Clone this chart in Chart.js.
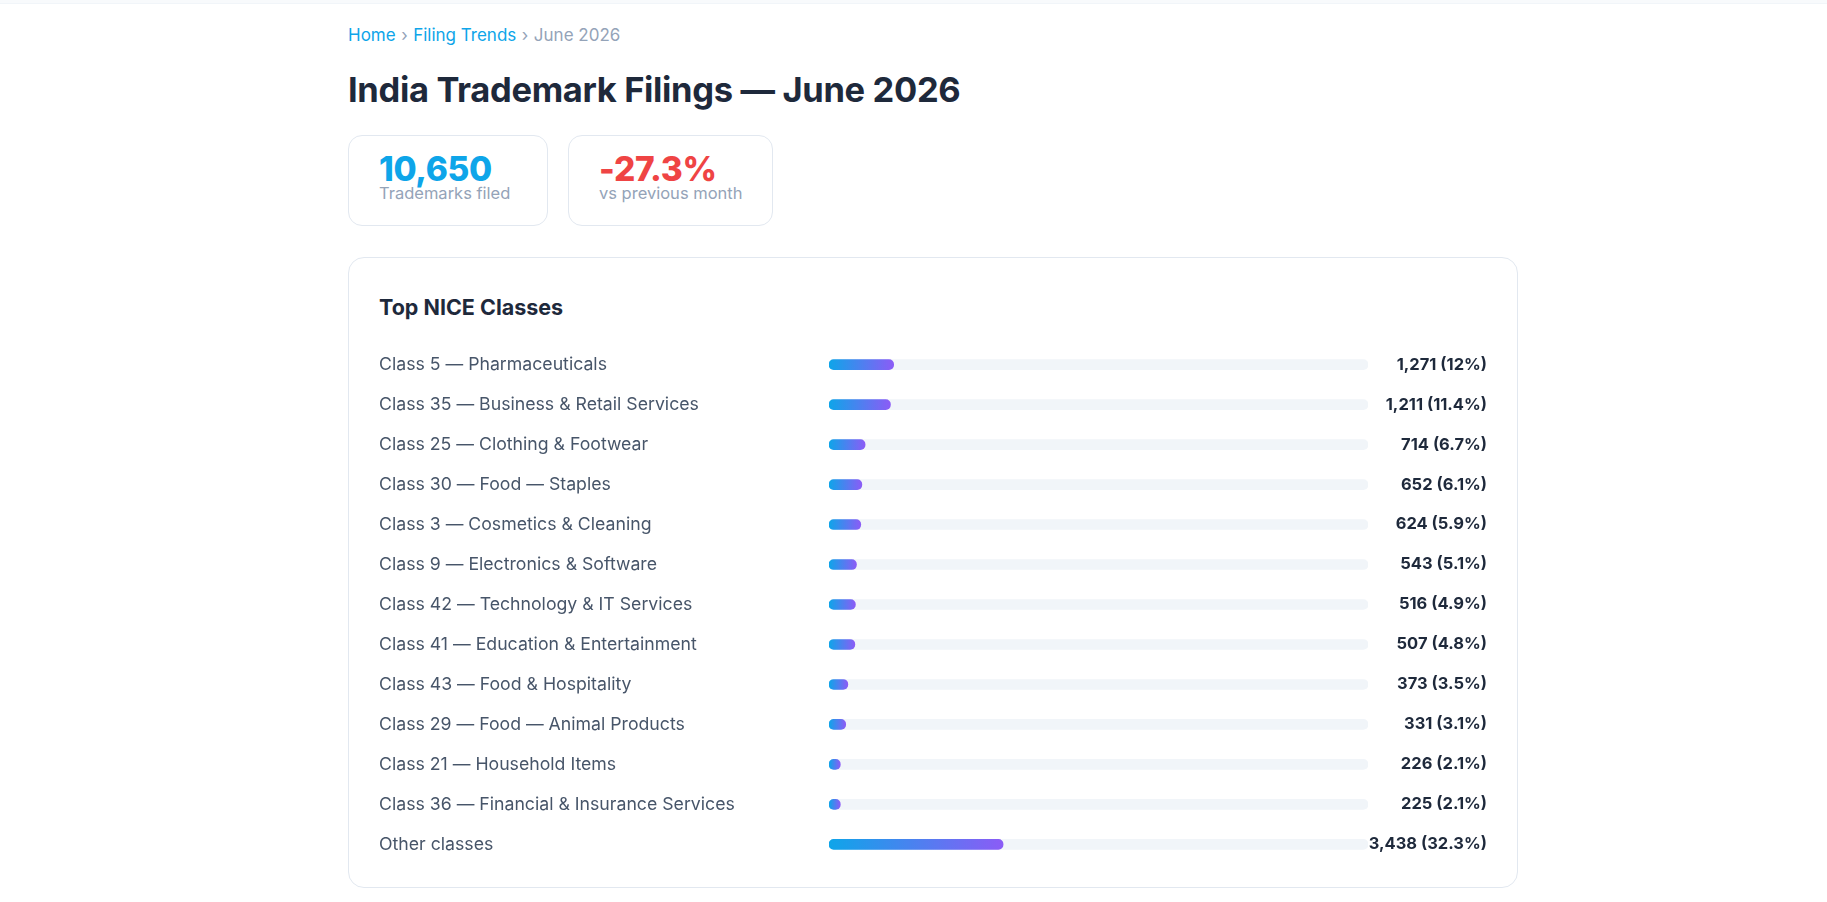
<!DOCTYPE html>
<html lang="en">
<head>
<meta charset="utf-8">
<title>India Trademark Filings — June 2026</title>
<script src="https://cdn.jsdelivr.net/npm/chart.js@4.4.1/dist/chart.umd.min.js"></script>
<style>
  body { margin: 0; background: #fff; font-family: Inter, "Noto Sans", sans-serif; color: #1e293b; }
  .topbar { height: 3px; background: #f8fafc; border-bottom: 1px solid #f1f5f9; }
  .wrap { margin-left: 348px; width: 1170px; }
  .crumbs { margin-top: 21px; font-size: 17px; color: #94a3b8; }
  .crumbs a { color: #0ea5e9; text-decoration: none; }
  .crumbs .sep { color: #94a3b8; margin: 0 5.5px; }
  h1 { margin: 23.5px 0 0; font-size: 34.5px; font-weight: 700; letter-spacing: -0.01em; color: #1e293b; }
  .stats { display: flex; gap: 20px; margin-top: 25px; }
  .stat { box-sizing: border-box; min-width: 200px; height: 91px; border: 1px solid #e2e8f0; border-radius: 14px; padding: 17px 30px 0 30px; }
  .stat .num { font-size: 33.5px; font-weight: 800; line-height: 1; letter-spacing: -0.01em; }
  .stat .lbl { font-size: 16.5px; color: #94a3b8; line-height: 1.1; margin-top: -2px; }
  .panel { margin-top: 31px; border: 1px solid #e2e8f0; border-radius: 16px; padding: 36px 30px 9px 30px; }
  .panel h2 { margin: 0; font-size: 21.5px; line-height: 26px; font-weight: 700; color: #1e293b; }
  .chart-box { position: relative; height: 547px; width: 1108px; margin-top: 11px; }
</style>
</head>
<body>
<div class="topbar"></div>
<div class="wrap">
  <div class="crumbs"><a href="#">Home</a><span class="sep">›</span><a href="#">Filing Trends</a><span class="sep">›</span>June 2026</div>
  <h1>India Trademark Filings — June 2026</h1>
  <div class="stats">
    <div class="stat"><div class="num" style="color:#0ea5e9">10,650</div><div class="lbl">Trademarks filed</div></div>
    <div class="stat"><div class="num" style="color:#ef4444">-27.3%</div><div class="lbl">vs previous month</div></div>
  </div>
  <div class="panel">
    <h2>Top NICE Classes</h2>
    <div class="chart-box"><canvas id="classesChart"></canvas></div>
  </div>
</div>
<script>
// Dados
const classLabels = [
  'Class 5 — Pharmaceuticals',
  'Class 35 — Business & Retail Services',
  'Class 25 — Clothing & Footwear',
  'Class 30 — Food — Staples',
  'Class 3 — Cosmetics & Cleaning',
  'Class 9 — Electronics & Software',
  'Class 42 — Technology & IT Services',
  'Class 41 — Education & Entertainment',
  'Class 43 — Food & Hospitality',
  'Class 29 — Food — Animal Products',
  'Class 21 — Household Items',
  'Class 36 — Financial & Insurance Services',
  'Other classes'
];
const classCounts = [1271, 1211, 714, 652, 624, 543, 516, 507, 373, 331, 226, 225, 3438];
const classShares = [12, 11.4, 6.7, 6.1, 5.9, 5.1, 4.9, 4.8, 3.5, 3.1, 2.1, 2.1, 32.3];
const shareMax = 100;

// Texto da coluna da direita: "1,271 (12%)"
const valueLabels = classCounts.map((c, i) => c.toLocaleString('en-US') + ' (' + classShares[i] + '%)');
const trackValues = classLabels.map(() => shareMax);

function barGradient(context) {
    const chart = context.chart;
    if (!chart.chartArea) return '#0ea5e9';
    const x = chart.scales.x;
    const x0 = x.getPixelForValue(0);
    const x1 = Math.max(x.getPixelForValue(context.raw), x0 + 1);
    const g = chart.ctx.createLinearGradient(x0, 0, x1, 0);
    g.addColorStop(0, '#0ea5e9');
    g.addColorStop(1, '#8b5cf6');
    return g;
}

new Chart(document.getElementById('classesChart').getContext('2d'), {
    type: 'bar',
    data: {
        labels: classLabels,
        datasets: [{
            label: 'Share',
            data: classShares,
            backgroundColor: barGradient,
            borderRadius: 6,
            borderSkipped: false,
            barThickness: 10,
            grouped: false,
            order: 1
        }, {
            label: 'Track',
            data: trackValues,
            backgroundColor: '#f1f5f9',
            borderRadius: 6,
            borderSkipped: false,
            barThickness: 10,
            grouped: false,
            order: 2
        }]
    },
    options: {
        indexAxis: 'y',
        responsive: true,
        maintainAspectRatio: false,
        animation: false,
        layout: { padding: 0 },
        plugins: {
            legend: { display: false },
            tooltip: { enabled: false }
        },
        scales: {
            x: { display: false, min: 0, max: shareMax },
            y: {
                position: 'left',
                grid: { display: false },
                border: { display: false },
                ticks: {
                    crossAlign: 'far',
                    color: '#475569',
                    font: { family: 'Inter', size: 17.7 }
                },
                afterFit: (scale) => { scale.width = 450; }
            },
            y2: {
                type: 'category',
                position: 'right',
                labels: valueLabels,
                grid: { display: false },
                border: { display: false },
                ticks: {
                    crossAlign: 'far',
                    color: '#1e293b',
                    font: { family: 'Inter', size: 16.5, weight: '700' }
                },
                // largura suficiente para "3,438 (32.3%)" (o texto é recortado na área do eixo)
                afterFit: (scale) => { scale.width = 119; }
            }
        }
    }
});
</script>
</body>
</html>
